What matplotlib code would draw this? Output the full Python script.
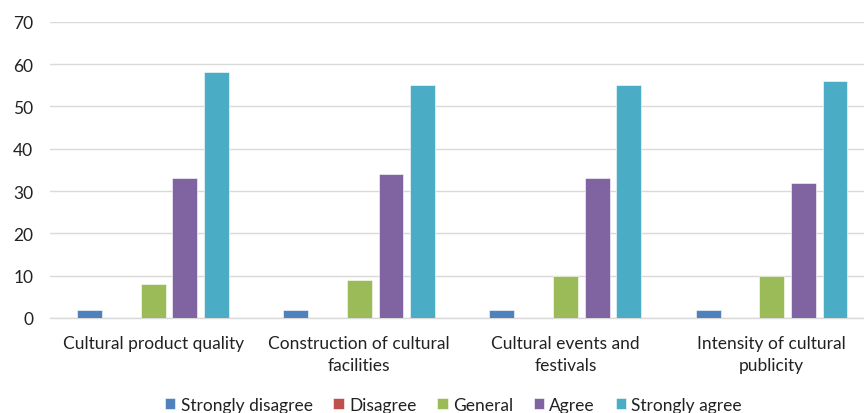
import numpy as np
import matplotlib
matplotlib.use("Agg")
import matplotlib.pyplot as plt

# chart data
categories = ["Cultural product quality", "Construction of cultural\nfacilities",
              "Cultural events and\nfestivals", "Intensity of cultural\npublicity"]
series_names = ["Strongly disagree", "Disagree", "General", "Agree", "Strongly agree"]
strongly_disagree = [2, 2, 2, 2]
disagree = [0, 0, 0, 0]
general = [8, 9, 10, 10]
agree = [33, 34, 33, 32]
strongly_agree = [58, 55, 55, 56]
y_ticks = [0, 10, 20, 30, 40, 50, 60, 70]

values = [strongly_disagree, disagree, general, agree, strongly_agree]
colors = ["#4F81BD", "#C0504D", "#9BBB59", "#8064A2", "#4BACC6"]

plt.rcParams['font.family'] = ['Lato', 'DejaVu Sans']

fig = plt.figure(figsize=(8.64, 4.14), dpi=100)
ax = fig.add_axes([50 / 864, 95 / 414, 824.6 / 864, 296.3 / 414])

x = np.arange(len(categories))
pitch = 0.154
width = 0.121
handles = []
for i, (name, vals, col) in enumerate(zip(series_names, values, colors)):
    h = ax.bar(x + (i - 2) * pitch, vals, width, color=col, label=name,
               edgecolor="white", linewidth=0.4, zorder=3)
    handles.append(h)

ax.set_xlim(-0.5, len(categories) - 0.5)
ax.set_ylim(0, 70)
ax.set_yticks(y_ticks)
ax.set_xticks(x)
ax.set_xticklabels(categories, fontsize=12.5, color="#222222", linespacing=1.45)
ax.tick_params(axis='y', labelsize=12.5, labelcolor="#222222", length=0, pad=12)
ax.tick_params(axis='x', length=0, pad=12)
ax.grid(axis='y', color="#D9D9D9", linewidth=1, zorder=0)
for s in ["top", "right", "left"]:
    ax.spines[s].set_visible(False)
ax.spines["bottom"].set_color("#D9D9D9")
ax.spines["bottom"].set_linewidth(1)

fig.legend(handles=handles, loc='center', bbox_to_anchor=(453.5 / 864, 8 / 414),
           ncol=5, frameon=False, fontsize=12.5, handlelength=0.6, handleheight=0.6,
           handletextpad=0.3, columnspacing=1.2, labelcolor="#222222")

fig.savefig("out.png", dpi=100)
